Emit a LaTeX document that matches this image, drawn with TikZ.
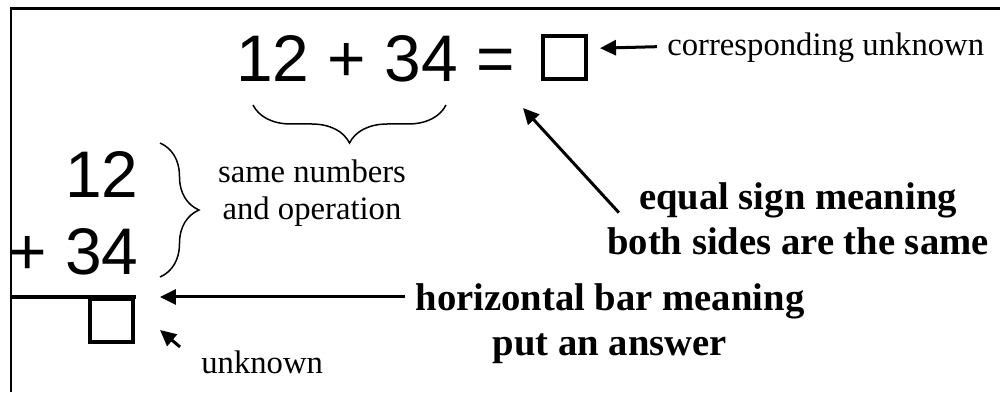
\documentclass[tikz,border=0pt]{standalone}
\usepackage{fontspec}
\setmainfont{Liberation Serif}
\newfontfamily\sumfont{Liberation Sans}
\usepackage{tikz}
\usetikzlibrary{arrows.meta, positioning, decorations.pathreplacing}
\definecolor{figink}{RGB}{0,0,0}
\tikzstyle{sumtext} = [inner sep=0pt, text=figink,
font=\sumfont\fontsize{37.5}{45}\selectfont]
\tikzstyle{ansbox} = [rectangle, draw=figink, line width=0.08cm,
minimum width=0.86cm, minimum height=0.86cm, inner sep=0pt]
\tikzstyle{label} = [inner sep=0pt, align=center, text=figink,
font=\fontsize{18.6}{21}\selectfont]
\tikzstyle{boldnote} = [inner sep=0pt, align=center, text=figink,
font=\bfseries\fontsize{22}{25.5}\selectfont]
\tikzstyle{pointer} = [-{Triangle[length=0.32cm, width=0.3cm]}, line width=0.06cm, draw=figink]
\tikzstyle{brace} = [decorate, draw=figink, line width=0.03cm]

\begin{document}
\begin{tikzpicture}[x=0.02cm, y=0.02cm]
    \useasboundingbox (0,0) rectangle (1000,392);
    \draw[line width=0.06cm, figink] (11,0) -- (11,383) -- (1000,383);

    \node (topsum) [sumtext, anchor=base west] at (236,310) {12 + 34 =};
    \node (topbox) [ansbox] at (564.5,334.5) {};
    \node (corr) [label, anchor=base west] at (667,336) {corresponding unknown};

    \node (num12) [sumtext, anchor=base east] at (139,194) {12};
    \node (num34) [sumtext, anchor=base east] at (139,117) {+ 34};
    \node (same) [label] at (312,199) {same numbers\\and operation};
    \node (botbox) [ansbox] at (111.5,71.5) {};
    \node (unk) [label, anchor=base west] at (201,19) {unknown};

    \node (eqnote) [boldnote] at (798,173) {equal sign meaning\\both sides are the same};
    \node (barnote) [boldnote] at (610,68) {horizontal bar meaning\\put an answer};

    \coordinate (ubr) at (446,287);
    \coordinate (ubl) at (253,287);
    \coordinate (rbt) at (160,249);
    \coordinate (rbb) at (160,115);
    \coordinate (barend) at (136,95);
    \coordinate (eqtip) at (523,284);
    \coordinate (unktip) at (160,62);

    \draw[brace, decoration={brace, amplitude=0.76cm}] (ubr) -- (ubl);
    \draw[brace, decoration={brace, amplitude=0.78cm}] (rbt) -- (rbb);
    \draw[line width=0.08cm, figink] (11,95) -- (barend);

    \draw[pointer] ([xshift=-0.2cm, yshift=0.03cm]corr.west) -- ([xshift=0.24cm]topbox.east |- corr.west);
    \draw[pointer] ([xshift=0.24cm, yshift=-0.6cm]eqnote.north west) -- (eqtip);
    \draw[pointer] ([xshift=-0.2cm]barnote.west |- barend) -- ([xshift=0.48cm]barend);
    \draw[pointer] ([xshift=-0.42cm, yshift=0.06cm]unk.north west) -- (unktip);
\end{tikzpicture}
\end{document}
